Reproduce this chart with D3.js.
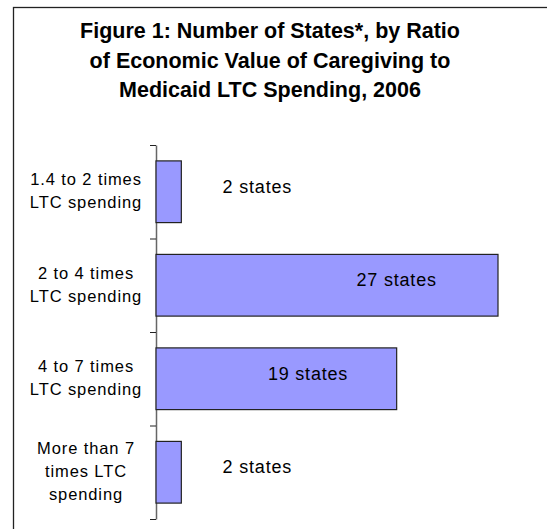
<!DOCTYPE html>
<html>
<head>
<script src="https://d3js.org/d3.v7.min.js"></script>
<style>
body { margin: 0; background: white; }
text { font-family: "Liberation Sans", Arial, sans-serif; fill: #000; }
</style>
</head>
<body>
<svg width="547" height="529"></svg>
<script>
// chart data
var categories = [
  ["1.4 to 2 times", "LTC spending"],
  ["2 to 4 times", "LTC spending"],
  ["4 to 7 times", "LTC spending"],
  ["More than 7", "times LTC", "spending"]
];
var states = [2, 27, 19, 2];
var valueLabels = ["2 states", "27 states", "19 states", "2 states"];
var titleLines = [
  "Figure 1: Number of States*, by Ratio",
  "of Economic Value of Caregiving to",
  "Medicaid LTC Spending, 2006"
];

var svg = d3.select("svg");

// outer frame (runs off the right / bottom edge)
svg.append("rect")
  .attr("x", 13.5).attr("y", 7.5)
  .attr("width", 600).attr("height", 600)
  .attr("fill", "none").attr("stroke", "#222").attr("stroke-width", 1.3);

// title
svg.append("text")
  .attr("text-anchor", "middle")
  .style("font-size", "21.5px").style("font-weight", "bold")
  .selectAll("tspan").data(titleLines).enter().append("tspan")
  .attr("x", 270)
  .attr("y", function(d, i) { return 38 + i * 29.5; })
  .text(function(d) { return d; });

var idx = d3.range(categories.length);
var y = d3.scaleBand().domain(idx).range([145, 519])
  .paddingInner(0.34).paddingOuter(0.17);
var x = d3.scaleLinear().domain([0, 30]).range([156, 536]);

// axis with ticks on the band boundaries
var yTicks = d3.scaleLinear().domain([0, categories.length]).range([145, 519]);
var axis = svg.append("g")
  .attr("transform", "translate(156,0)")
  .call(d3.axisLeft(yTicks).ticks(categories.length).tickFormat("").tickSize(6).tickSizeOuter(0));
axis.select(".domain").attr("stroke", "#666").attr("stroke-width", 1.5);
axis.selectAll(".tick line").attr("stroke", "#222");

// bars
svg.selectAll("rect.bar").data(states).enter().append("rect")
  .attr("class", "bar")
  .attr("x", x(0))
  .attr("y", function(d, i) { return y(i); })
  .attr("width", function(d) { return x(d) - x(0); })
  .attr("height", y.bandwidth())
  .attr("fill", "#9999ff")
  .attr("stroke", "#222").attr("stroke-width", 1.2);

// value labels (centre positions in state units, as placed in the original)
var labelAt = [8, 19, 12, 8];
svg.selectAll("text.val").data(valueLabels).enter().append("text")
  .attr("class", "val")
  .attr("text-anchor", "middle")
  .attr("x", function(d, i) { return x(labelAt[i]); })
  .attr("y", function(d, i) { return y(i) + y.bandwidth() / 2 + 1; })
  .style("font-size", "18px").style("letter-spacing", "0.8px")
  .text(function(d) { return d; });

// category labels
svg.selectAll("text.cat").data(categories).enter().append("text")
  .attr("class", "cat")
  .attr("text-anchor", "middle")
  .style("font-size", "16.5px").style("letter-spacing", "0.9px")
  .each(function(lines, i) {
    var cy = y(i) + y.bandwidth() / 2;
    var first = cy - (lines.length - 1) * 23 / 2 + 5;
    d3.select(this).selectAll("tspan").data(lines).enter().append("tspan")
      .attr("x", 86)
      .attr("y", function(d, j) { return first + j * 23; })
      .text(function(d) { return d; });
  });
</script>
</body>
</html>
